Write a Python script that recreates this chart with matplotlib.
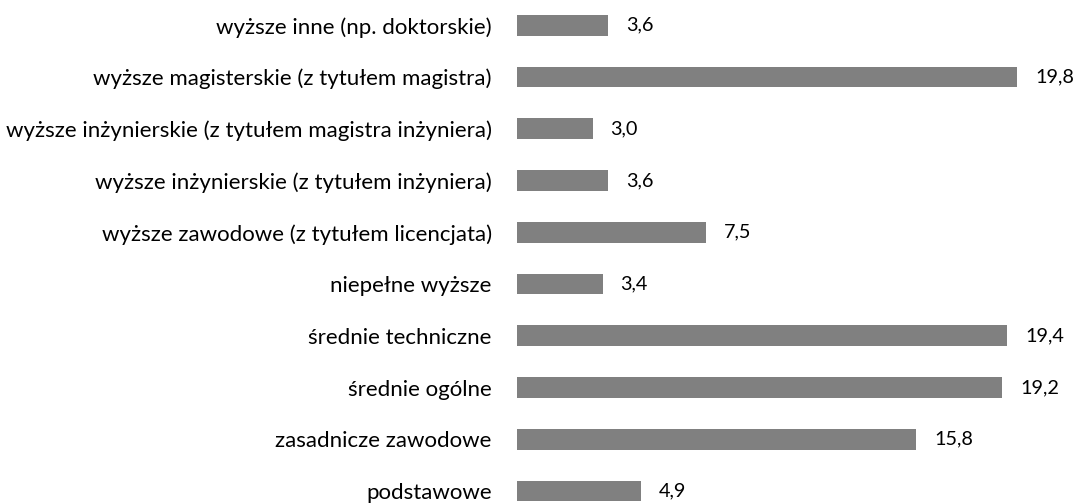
import matplotlib
matplotlib.use('Agg')
import matplotlib.pyplot as plt

# categories bottom -> top
categories = [
    'podstawowe',
    'zasadnicze zawodowe',
    'średnie ogólne',
    'średnie techniczne',
    'niepełne wyższe',
    'wyższe zawodowe (z tytułem licencjata)',
    'wyższe inżynierskie (z tytułem inżyniera)',
    'wyższe inżynierskie (z tytułem magistra inżyniera)',
    'wyższe magisterskie (z tytułem magistra)',
    'wyższe inne (np. doktorskie)',
]
values = [4.9, 15.8, 19.2, 19.4, 3.4, 7.5, 3.6, 3.0, 19.8, 3.6]

plt.rcParams['font.family'] = ['Lato', 'DejaVu Sans']

fig = plt.figure(figsize=(10.74, 5.03), dpi=100)
ax = fig.add_axes([0.4811, 0, 0.5178, 1])

y = list(range(len(categories)))
ax.barh(y, values, height=0.40, color='#808080')

for yi, v in zip(y, values):
    ax.text(v + 0.71, yi, f'{v:.1f}'.replace('.', ','), va='center', ha='left',
            fontsize=14.3, color='#000000')

ax.set_yticks(y)
ax.set_yticklabels(categories, fontsize=16)
ax.tick_params(axis='y', length=0, pad=18)
ax.set_xticks([])
ax.set_xlim(0, 22)
ax.set_ylim(-0.232, 9.489)
for s in ax.spines.values():
    s.set_visible(False)

fig.savefig('out.png', dpi=100)
